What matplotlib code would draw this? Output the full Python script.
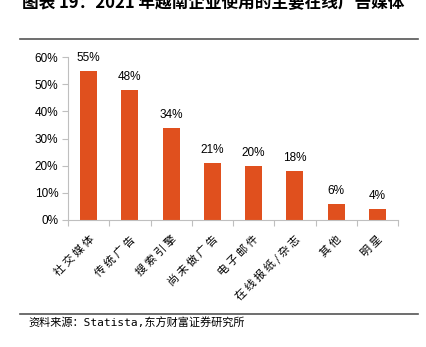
import matplotlib
matplotlib.use("Agg")
import matplotlib.pyplot as plt
from matplotlib.lines import Line2D

plt.rcParams['font.family'] = ['Liberation Sans', 'Noto Sans CJK SC', 'DejaVu Sans']

# 数据
categories = ['社交媒体', '传统广告', '搜索引擎', '尚未做广告', '电子邮件', '在线报纸/杂志', '其他', '明星']
values = [55, 48, 34, 21, 20, 18, 6, 4]
yticks = [0, 10, 20, 30, 40, 50, 60]

W, H = 426, 347
fig = plt.figure(figsize=(W / 100, H / 100), dpi=100)
ax = fig.add_axes([68 / W, 1 - 220 / H, (398 - 68) / W, (220 - 57) / H])

bar_color = '#E0501E'
x = range(len(categories))
bars = ax.bar(x, values, width=0.41, color=bar_color)

for b, v in zip(bars, values):
    ax.annotate(f'{v}%', (b.get_x() + b.get_width() / 2, v), xytext=(0, 5),
                textcoords='offset points', ha='center', va='bottom', fontsize=8.5)

ax.set_xlim(-0.5, len(categories) - 0.5)
ax.set_ylim(0, 60)
ax.set_yticks(yticks)
ax.set_yticklabels([f'{t}%' for t in yticks], fontsize=8.5)

# 类别边界处的刻度
ax.set_xticks([i - 0.5 for i in range(len(categories) + 1)])
ax.set_xticklabels([])
ax.set_xticks(list(x), minor=True)
# 字间留空，模仿原图的宽字距
spaced = [' '.join(c) for c in categories]
ax.set_xticklabels(spaced, minor=True, rotation=45, ha='right', rotation_mode='anchor',
                   fontsize=8, family=['Noto Sans CJK SC', 'DejaVu Sans'])
ax.tick_params(axis='x', which='minor', length=0, pad=10)
ax.tick_params(axis='x', which='major', length=4, color='#BFBFBF', direction='out')
ax.tick_params(axis='y', length=4, color='#BFBFBF', pad=3)

for s in ['top', 'right']:
    ax.spines[s].set_visible(False)
ax.spines['left'].set_color('#BFBFBF')
ax.spines['bottom'].set_color('#BFBFBF')

# 标题与分隔线
fig.text(213 / W, 1 - 3 / H, '图表 19：2021 年越南企业使用的主要在线广告媒体', ha='center', va='center',
         fontsize=12, fontweight='bold', family=['Noto Sans CJK SC', 'DejaVu Sans'])
fig.add_artist(Line2D([20 / W, 418 / W], [1 - 39 / H, 1 - 39 / H], color='#555555', lw=1.2))
fig.add_artist(Line2D([20 / W, 418 / W], [1 - 314 / H, 1 - 314 / H], color='#555555', lw=1.2))
fig.text(28 / W, 1 - 323 / H, '资料来源：Statista,东方财富证券研究所', ha='left', va='center',
         fontsize=8, family=['DejaVu Sans Mono', 'Noto Sans CJK SC'])

fig.savefig('out.png', dpi=100)
